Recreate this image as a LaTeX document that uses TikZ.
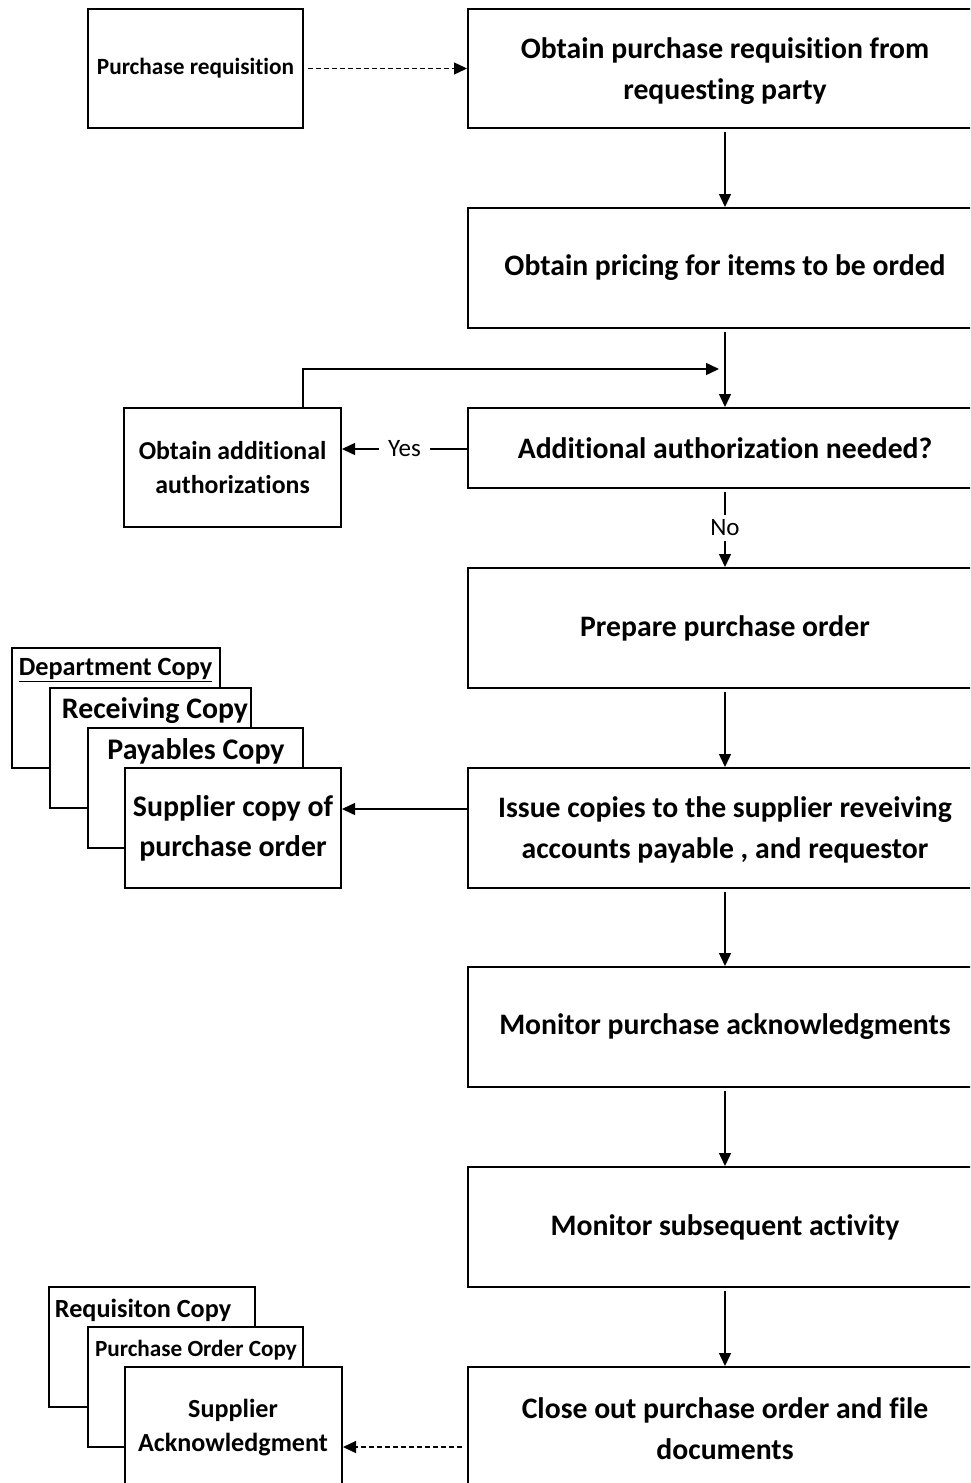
\documentclass[tikz,border=0pt]{standalone}
\usepackage{fontspec}
\setmainfont{Carlito}[Ligatures=NoCommon]
\usetikzlibrary{arrows.meta}
\tikzset{
  box/.style={draw, line width=2pt, fill=white, inner sep=0pt},
  mainbox/.style={box, minimum width=514pt},
  maintext/.style={font=\bfseries\fontsize{29.7}{41}\selectfont, align=center, inner sep=0pt},
  conn/.style={line width=1.4pt, -{Triangle[length=13pt,width=12pt]}},
  dashconn/.style={conn, dash pattern=on 5pt off 3pt},
  lbl/.style={font=\fontsize{25}{28}\selectfont, fill=white, inner sep=3pt},
}
\begin{document}
\begin{tikzpicture}[x=1pt,y=-1pt]
\useasboundingbox (0,0) rectangle (970,1483);
\clip (0,0) rectangle (970,1483);
\fill[white] (0,0) rectangle (970,1483);

% main column
\node[mainbox, minimum height=119pt] (b1) at (725,68.5) {};
\node[maintext] (b1t) at (725,71) {Obtain purchase requisition from\\requesting party};
\node[mainbox, minimum height=120pt, maintext] (b2) at (725,268) {Obtain pricing for items to be orded};
\node[mainbox, minimum height=80pt, maintext] (b3) at (725,448) {Additional authorization needed?};
\node[mainbox, minimum height=120pt, maintext] (b4) at (725,628) {Prepare purchase order};
\node[mainbox, minimum height=120pt] (b5) at (725,828) {};
\node[maintext] (b5t) at (725,830) {Issue copies to the supplier reveiving\\accounts payable , and requestor};
\node[mainbox, minimum height=120pt, maintext] (b6) at (725,1027) {Monitor purchase acknowledgments};
\node[mainbox, minimum height=120pt, maintext] (b7) at (725,1227) {Monitor subsequent activity};
\node[mainbox, minimum height=160pt] (b8) at (725,1447) {};
\node[maintext] (b8t) at (725,1429) {Close out purchase order and file\\documents};

% left side boxes
\node[box, minimum width=215pt, minimum height=119pt, font=\bfseries\fontsize{23.3}{28}\selectfont] (pr) at (195.5,68.5) {Purchase requisition};
\node[box, minimum width=217pt, minimum height=119pt, font=\bfseries\fontsize{25.8}{34}\selectfont, align=center] (oaa) at (232.5,467.5) {Obtain additional\\authorizations};

% stack 1
\node[box, minimum width=208pt, minimum height=120pt] (dep) at (116,708) {};
\node[font=\bfseries\fontsize{26.3}{30}\selectfont, inner sep=0pt] (dept) at (115.5,670) {\underline{Department Copy}};
\node[box, minimum width=201pt, minimum height=120pt] (rec) at (150.5,748) {};
\node[font=\bfseries\fontsize{29.8}{32}\selectfont, inner sep=0pt] (rect) at (155,711) {Receiving Copy};
\node[box, minimum width=215pt, minimum height=120pt] (pay) at (195.5,788) {};
\node[font=\bfseries\fontsize{29.9}{32}\selectfont, inner sep=0pt] (payt) at (196,751) {Payables Copy};
\node[box, minimum width=216pt, minimum height=120pt, font=\bfseries\fontsize{29.9}{40}\selectfont, align=center] (sup) at (233,828) {Supplier copy of\\purchase order};

% stack 2
\node[box, minimum width=206pt, minimum height=120pt] (req) at (152,1347) {};
\node[font=\bfseries\fontsize{26.2}{30}\selectfont, inner sep=0pt] (reqt) at (143,1310) {Requisiton Copy};
\node[box, minimum width=215pt, minimum height=120pt] (poc) at (195.5,1387) {};
\node[font=\bfseries\fontsize{23.2}{28}\selectfont, inner sep=0pt] (poct) at (196,1350) {Purchase Order Copy};
\node[box, minimum width=217pt, minimum height=160pt] (ack) at (233.5,1447) {};
\node[font=\bfseries\fontsize{26.1}{34}\selectfont, align=center, inner sep=0pt] (ackt) at (233,1428) {Supplier\\Acknowledgment};

% connectors
\draw[dashconn, shorten <=4pt] (pr.east) -- (b1.west);
\draw[conn, shorten <=3pt] (b1.south) -- (b2.north);
\draw[conn, shorten <=3pt] (b2.south) -- (b3.north);
\coordinate (loopend) at (719,369);
\draw[conn] (oaa.north -| 303,0) |- (loopend);
\draw[conn] ([yshift=-1pt]b3.west) -- node[lbl, inner xsep=9pt] {Yes} ([yshift=-1pt]b3.west -| oaa.east);
\draw[conn, shorten <=3pt] (b3.south) -- node[lbl, inner ysep=5pt] {No} (b4.north);
\draw[conn, shorten <=3pt] (b4.south) -- (b5.north);
\draw[conn] ([yshift=19pt]b5.west) -- ([yshift=19pt]sup.east);
\draw[conn, shorten <=3pt] (b5.south) -- (b6.north);
\draw[conn, shorten <=3pt] (b6.south) -- (b7.north);
\draw[conn, shorten <=3pt] (b7.south) -- (b8.north);
\draw[dashconn, shorten <=5pt] (b8.west) -- (ack.east);
\end{tikzpicture}
\end{document}
